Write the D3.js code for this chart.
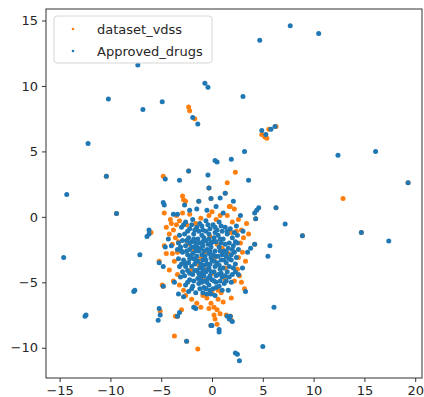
<!DOCTYPE html>
<html>
<head>
<meta charset="utf-8">
<script src="https://cdn.jsdelivr.net/npm/d3@7"></script>
<style>
  body { margin: 0; background: #fff; }
  svg { display: block; font-family: "DejaVu Sans", sans-serif; }
</style>
</head>
<body>
<svg id="chart" width="424" height="397"></svg>
<script>
// series: [x, y] pairs
const vdssPoints = [
  // core, mostly under the blue
  [-4.5,-0.8],[-4.0,-0.5],[-3.8,-1.0],[-4.2,-1.3],[-3.5,-0.6],[-3.6,-1.6],[-3.9,-2.1],[-3.4,-2.7],[-3.7,-3.4],
  [-3.5,0.1],[-2.9,0.3],[-2.2,0.2],[-3.3,-1.9],[-2.5,-0.6],[1.5,0.1],[0.8,0.1],[2.0,-0.4],[2.6,-0.2],
  [2.9,-1.0],[3.1,-1.6],[2.4,-1.1],[2.8,-2.0],[1.9,-1.2],[3.0,-2.7],[2.6,-3.1],[2.5,-4.0],[2.2,-4.9],
  [2.7,-4.5],[-0.5,-6.2],[-0.1,-6.6],[0.2,-6.9],[0.5,-7.1],[0.8,-7.4],[1.1,-6.5],[0.6,-6.3],[-0.3,-7.0],
  [0.0,-5.8],[0.9,-5.8],[-0.9,-6.0],[-2.0,-6.3],[-1.5,-6.6],[-2.6,-6.0],[-3.2,-5.2],[-3.4,-4.4],[-2.8,-5.6],
  [-1.1,-0.1],[-0.3,0.1],[0.4,-0.2],[-1.6,-0.5],[-1.8,-2.6],[-0.7,-2.7],[0.5,-2.1],[-1.3,-3.7],[0.0,-4.3],
  [-0.9,-4.7],[1.3,-3.9],[-2.1,-4.1],[0.6,-5.6],[1.3,-4.8],[-0.2,-1.5],[-2.4,-2.1],[1.0,-2.4],[-1.1,-3.2],
  [0.3,-3.1],[1.6,-2.8],[-0.5,-4.0],[-4.7,-2.2],[-4.5,-2.8],[3.4,-0.5],[3.6,-1.3],[2.2,0.6],[1.8,0.8],
  [-4.1,-0.2],[-3.2,-0.3],[3.3,-3.4],[2.9,-5.0],[1.9,-6.2],[-1.1,-6.9],[-3.9,-2.8],[0.0,0.4],
  // fringe
  [-4.8,3.1],[2.3,3.4],[1.5,2.6],[-2.8,1.3],[-2.9,1.6],[-2.6,1.2],[1.7,0.8],[-4.7,0.3],[-6.0,-1.2],
  [-5.2,-3.4],[-4.2,-4.05],[-3.8,-4.9],[-5.1,-7.2],[-3.6,-7.6],[-3.7,-9.1],[-1.4,-10.1],[0.5,-8.2],
  [1.4,-7.5],[1.9,-7.9],[3.2,-5.5],[0.2,-7.5],[0.3,-7.8],[-4.9,-5.2],[-3.0,-7.1],
  // shared with approved drugs
  [-10.4,3.1],[-9.4,0.25],[8.9,-1.45],[14.7,-1.2],[19.3,2.6],[-2.5,-9.5],[-0.1,-8.3],[1.3,1.8],[-1.3,1.2],
  [-0.1,1.4],[6.3,0.7],[4.3,-0.15],[4.2,-2.1],[-0.3,2.2],[-2.3,3.5],[-4.8,-5.3],[-3.4,-7.6],[1.8,-7.6],
  // outliers
  [12.9,1.4],[-2.3,8.4],[-2.2,8.1],[-1.7,7.5],[6.3,6.9],[5.2,6.1],[4.9,6.3],[5.6,6.7],[5.4,6.0]
];

const approvedPoints = [
  // core
  [-2.6,-0.4],[-1.9,-0.2],[-1.2,-0.5],[-0.6,-0.3],[0.1,-0.6],[0.7,-0.4],[1.3,-0.8],[-2.2,-0.9],[-1.5,-0.8],
  [-0.9,-1.0],[-0.2,-0.9],[0.5,-1.0],[1.0,-1.1],[1.8,-0.9],[2.4,-0.7],[-3.0,-0.8],
  [-3.2,-1.4],[-2.7,-1.3],[-2.3,-1.6],[-1.8,-1.3],[-1.4,-1.7],[-1.0,-1.4],[-0.6,-1.8],[-0.3,-1.3],[0.2,-1.6],
  [0.6,-1.4],[1.1,-1.7],[1.5,-1.3],[2.0,-1.6],[2.5,-1.4],[-2.0,-1.9],[-1.2,-2.0],[-0.1,-2.0],[0.9,-2.0],[1.7,-2.0],
  [-3.1,-2.3],[-2.6,-2.2],[-2.2,-2.5],[-1.7,-2.3],[-1.3,-2.6],[-0.9,-2.2],[-0.5,-2.5],[-0.1,-2.3],[0.3,-2.6],
  [0.7,-2.3],[1.2,-2.6],[1.6,-2.4],[2.1,-2.2],[2.6,-2.5],[-2.4,-2.9],[-1.9,-2.8],[-1.0,-2.9],[-0.3,-2.8],
  [0.4,-3.0],[1.0,-2.9],[1.9,-2.9],
  [-3.3,-3.2],[-2.8,-3.3],[-2.3,-3.5],[-1.8,-3.2],[-1.4,-3.4],[-0.9,-3.3],[-0.5,-3.6],[0.0,-3.3],[0.5,-3.5],
  [0.9,-3.3],[1.4,-3.5],[1.9,-3.3],[2.3,-3.6],[-2.0,-3.8],[-1.2,-3.9],[-0.3,-3.9],[0.3,-3.8],[1.1,-3.9],
  [-2.9,-4.2],[-2.4,-4.1],[-1.9,-4.4],[-1.5,-4.1],[-1.0,-4.3],[-0.6,-4.2],[-0.2,-4.5],[0.2,-4.2],[0.6,-4.4],
  [1.0,-4.6],[1.5,-4.2],[2.0,-4.4],[-2.2,-4.8],[-1.4,-4.7],[-0.7,-4.9],[0.0,-4.8],[0.4,-5.0],[-3.1,-4.6],
  [-2.6,-5.2],[-1.9,-5.3],[-1.3,-5.1],[-0.8,-5.4],[-0.3,-5.2],[0.1,-5.5],[0.7,-5.3],[1.2,-5.1],[-1.6,-5.8],
  [-0.5,-5.9],[0.3,-6.0],[-2.3,-5.7],[1.6,-5.6],[1.9,-5.0],
  [-1.6,-2.0],[-0.8,-1.6],[-0.4,-2.1],[0.1,-1.9],[-1.1,-2.4],[-0.7,-3.0],[-1.5,-3.0],[-0.1,-3.1],[0.2,-3.4],
  [-1.7,-3.6],[-0.8,-3.7],[-0.4,-4.0],[-1.2,-4.5],[-0.9,-4.0],[-0.4,-4.7],[0.8,-4.0],[0.6,-3.0],[-2.1,-3.0],
  [-1.3,-1.1],[-0.6,-1.1],[0.3,-1.2],[-2.5,-1.8],[-2.9,-2.7],[-2.6,-3.8],[1.4,-3.0],[1.7,-3.8],[2.2,-2.7],
  [-0.2,-5.6],[-1.0,-5.0],
  // more core, filling the solid part
  [-2.8,-0.6],[-2.4,-1.1],[-2.0,-0.6],[-1.7,-1.0],[-1.0,-0.7],[-0.4,-0.6],[0.3,-0.8],[0.9,-0.7],[1.5,-1.1],[2.2,-1.2],
  [-2.9,-1.8],[-2.2,-2.0],[-1.8,-1.7],[-1.5,-2.3],[-0.9,-1.9],[-0.3,-1.7],[0.4,-1.9],[0.8,-1.7],[1.3,-2.1],[2.3,-1.9],
  [-3.0,-2.6],[-2.5,-2.6],[-2.0,-2.3],[-1.6,-2.6],[-0.8,-2.6],[-0.2,-2.6],[0.1,-2.9],[0.8,-2.6],[1.4,-2.7],[2.0,-2.5],
  [-3.0,-3.6],[-2.6,-3.5],[-2.2,-3.2],[-1.6,-3.3],[-1.1,-3.6],[-0.6,-3.3],[-0.2,-3.6],[0.7,-3.7],[1.2,-3.3],[1.7,-3.2],[2.1,-3.9],
  [-2.7,-4.5],[-2.2,-4.3],[-1.7,-4.1],[-1.3,-4.3],[-0.8,-4.5],[-0.1,-4.2],[0.4,-4.5],[0.9,-4.3],[1.3,-4.5],[1.7,-4.6],
  [-2.4,-5.0],[-1.8,-4.9],[-1.1,-4.8],[-0.5,-5.0],[0.2,-4.9],[0.8,-4.9],[1.4,-4.9],
  [-2.0,-5.5],[-1.2,-5.5],[-0.6,-5.5],[0.4,-5.4],[1.0,-5.6],[-0.9,-5.8],[-0.1,-5.9],
  [-3.3,-2.0],[-3.4,-2.5],[-3.2,-3.8],[2.4,-3.1],[2.5,-2.0],[2.3,-4.2],
  // fringe
  [-3.4,0.2],[-2.7,0.9],[-2.2,0.5],[-0.5,0.5],[0.4,0.8],[0.8,1.45],[2.1,1.2],[-3.2,2.8],[-0.4,3.2],
  [3.6,2.8],[3.2,5.0],[1.9,4.4],[0.3,4.3],[0.5,4.2],[3.05,-1.1],[4.2,0.3],[4.4,0.5],[4.6,0.7],[7.2,-0.55],
  [5.7,-2.2],[5.5,-3.0],[3.5,-2.7],[3.3,-5.7],[2.6,-4.4],[3.0,-3.9],[6.1,-6.9],[1.5,-7.6],[1.7,-7.8],
  [2.0,-8.0],[0.7,-8.6],[0.7,-8.8],[0.0,-8.3],[2.3,-10.4],[2.5,-10.5],[2.7,-11.0],[5.0,-9.9],[-1.6,-7.0],
  [-1.8,-6.9],[-3.2,-7.3],[-2.8,-6.1],[-3.3,-5.9],[-5.2,-7.0],[-5.1,-7.5],[-5.3,-7.9],[-3.7,-5.0],
  [-5.2,-3.5],[-4.8,-3.8],[-4.6,-2.3],[-4.0,-2.2],[-6.2,-1.0],[-6.4,-1.5],[-6.2,-1.3],[-7.1,-2.9],
  [-4.8,1.1],[-4.7,0.9],[-3.8,0.2],[-4.6,2.9],[-1.5,0.6],[1.1,0.3],[2.8,0.1],[3.8,-2.4],[-4.3,-1.7],
  // shared with dataset_vdss
  [-10.4,3.1],[-9.4,0.25],[8.9,-1.45],[14.7,-1.2],[19.3,2.6],[-2.5,-9.5],[-0.1,-8.3],[1.3,1.8],[-1.3,1.2],
  [-0.1,1.4],[6.3,0.7],[4.3,-0.15],[4.2,-2.1],[-0.3,2.2],[-2.3,3.5],[-4.8,-5.3],[-3.4,-7.6],[1.8,-7.6],
  // outliers
  [7.7,14.6],[10.5,14.0],[4.7,13.5],[-7.3,11.6],[-10.2,9.0],[-6.8,8.2],[-4.9,8.8],[-0.7,10.2],[-0.4,9.9],
  [3.05,9.2],[-12.2,5.6],[-14.3,1.7],[-14.6,-3.1],[-12.4,-7.5],[-12.5,-7.6],[-7.6,-5.6],[-7.7,-5.7],
  [12.4,4.7],[16.1,5.0],[17.4,-1.85],[-1.9,7.6],[-1.4,7.1],[4.9,6.6],[5.3,6.3],[5.8,6.7],[6.2,6.9]
];

const seriesNames = ["dataset_vdss", "Approved_drugs"];
const seriesColors = ["#ff7f0e", "#1f77b4"];
const xTicks = [-15, -10, -5, 0, 5, 10, 15, 20];
const yTicks = [-10, -5, 0, 5, 10, 15];

const svg = d3.select("#chart");
const margin = { top: 9, right: 2, bottom: 19, left: 46 };
const width = +svg.attr("width");
const height = +svg.attr("height");

const x = d3.scaleLinear()
  .domain([-16.34, 20.67])
  .range([margin.left, width - margin.right]);
const y = d3.scaleLinear()
  .domain([-12.31, 15.88])
  .range([height - margin.bottom, margin.top]);

const minus = d => d < 0 ? "\u2212" + Math.abs(d) : d;

// axes
const xAxis = svg.append("g")
  .attr("transform", `translate(0,${height - margin.bottom})`)
  .call(d3.axisBottom(x).tickValues(xTicks).tickSize(4).tickPadding(4).tickFormat(minus));
const yAxis = svg.append("g")
  .attr("transform", `translate(${margin.left},0)`)
  .call(d3.axisLeft(y).tickValues(yTicks).tickSize(4).tickPadding(4).tickFormat(minus));
[xAxis, yAxis].forEach(g => {
  g.select(".domain").remove();
  g.selectAll("line").attr("stroke", "#333");
  g.selectAll("text").attr("font-size", 13).attr("fill", "#262626")
    .attr("font-family", "DejaVu Sans, sans-serif");
});

// points, vdss first so the approved ones sit on top
const series = [vdssPoints, approvedPoints];
series.forEach((pts, i) => {
  svg.append("g")
    .selectAll("circle")
    .data(pts)
    .enter()
    .append("circle")
    .attr("cx", d => x(d[0]))
    .attr("cy", d => y(d[1]))
    .attr("r", 2.5)
    .attr("fill", seriesColors[i]);
});

// frame
svg.append("rect")
  .attr("x", margin.left)
  .attr("y", margin.top)
  .attr("width", width - margin.left - margin.right)
  .attr("height", height - margin.top - margin.bottom)
  .attr("fill", "none")
  .attr("stroke", "#333")
  .attr("stroke-width", 1);

// legend
const legend = svg.append("g").attr("transform", "translate(54,16)");
legend.append("rect")
  .attr("width", 158).attr("height", 47).attr("rx", 3)
  .attr("fill", "#fff").attr("fill-opacity", 0.8)
  .attr("stroke", "#d6d6d6");
seriesNames.forEach((name, i) => {
  const row = legend.append("g").attr("transform", `translate(0,${13 + i * 22})`);
  row.append("circle").attr("cx", 19).attr("cy", 0).attr("r", 1.3).attr("fill", seriesColors[i]);
  row.append("text").attr("x", 43).attr("y", 5)
    .attr("font-size", 13).attr("fill", "#262626").text(name);
});
</script>
</body>
</html>
